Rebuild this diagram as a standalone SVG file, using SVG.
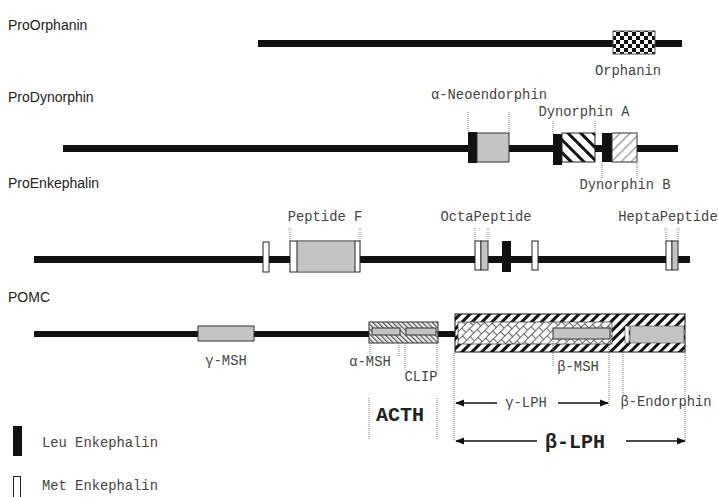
<svg xmlns="http://www.w3.org/2000/svg" width="718" height="497" viewBox="0 0 718 497">
<style>
.sans{font-family:"Liberation Sans",Arial,sans-serif;font-size:14px;fill:#222}
.mono{font-family:"Liberation Mono","Courier New",monospace;font-size:13.8px;fill:#444}
.bold{font-family:"Liberation Mono","Courier New",monospace;font-weight:bold;font-size:20px;fill:#222}
.bb{fill:#111}
.gray{fill:#c4c4c4;stroke:#333;stroke-width:1}
.wbox{fill:#fff;stroke:#222;stroke-width:1}
.dot{stroke:#777;stroke-width:1;stroke-dasharray:1 1;fill:none}
.arr{stroke:#111;stroke-width:1.6;fill:none}
</style>
<defs>
<pattern id="checker" width="8" height="8" patternUnits="userSpaceOnUse"><rect width="8" height="8" fill="#fff"/><rect width="4" height="4" fill="#111"/><rect x="4" y="4" width="4" height="4" fill="#111"/></pattern>
<pattern id="hatchA" width="9" height="9" patternUnits="userSpaceOnUse" patternTransform="rotate(-45)"><rect width="9" height="9" fill="#fff"/><rect width="3" height="9" fill="#111"/></pattern>
<pattern id="hatchB" width="7" height="7" patternUnits="userSpaceOnUse" patternTransform="rotate(45)"><rect width="7" height="7" fill="#fff"/><rect width="1.3" height="7" fill="#999"/></pattern>
<pattern id="hatchC" width="7" height="7" patternUnits="userSpaceOnUse" patternTransform="rotate(45)"><rect width="7" height="7" fill="#fff"/><rect width="3" height="7" fill="#111"/></pattern>
<pattern id="hatchD" width="3.5" height="3.5" patternUnits="userSpaceOnUse" patternTransform="rotate(-45)"><rect width="3.5" height="3.5" fill="#eee"/><rect width="1.2" height="3.5" fill="#555"/></pattern>
<pattern id="brick" width="12" height="10" patternUnits="userSpaceOnUse" patternTransform="rotate(45)"><rect width="12" height="10" fill="#fff"/><path d="M0.5 0V10M6.5 0V10M0 0.5H6.5M6.5 5.5H12" stroke="#555" stroke-width="0.9" fill="none"/></pattern>
<marker id="ah" viewBox="0 0 10 10" refX="9" refY="5" markerWidth="9" markerHeight="9" markerUnits="userSpaceOnUse" orient="auto-start-reverse"><path d="M0 1L10 5L0 9Z" fill="#111"/></marker>
</defs>

<g id="proorphanin">
<text class="sans" x="8" y="30">ProOrphanin</text>
<rect class="bb" x="258" y="40" width="424" height="7"/>
<rect x="613" y="31" width="42" height="23" fill="url(#checker)" stroke="#555" stroke-width="1"/>
<text class="mono" x="628" y="75" text-anchor="middle">Orphanin</text>
</g>

<g id="prodynorphin">
<text class="sans" x="8" y="102">ProDynorphin</text>
<rect class="bb" x="63" y="145" width="615" height="7"/>
<rect class="bb" x="468" y="132" width="9" height="31"/>
<rect class="gray" x="477" y="133" width="32" height="29"/>
<text class="mono" x="489" y="99" text-anchor="middle">α-Neoendorphin</text>
<rect class="bb" x="553" y="134" width="9" height="31"/>
<rect x="562" y="133" width="33" height="29" fill="url(#hatchA)" stroke="#222"/>
<text class="mono" x="584" y="116" text-anchor="middle">Dynorphin A</text>
<rect class="bb" x="602" y="133" width="10" height="29"/>
<rect x="612" y="133" width="25" height="29" fill="url(#hatchB)" stroke="#333"/>
<text class="mono" x="625" y="189" text-anchor="middle">Dynorphin B</text>
</g>

<g id="proenkephalin">
<text class="sans" x="8" y="188">ProEnkephalin</text>
<rect class="bb" x="34" y="256" width="656" height="7"/>
<rect class="wbox" x="263" y="242" width="6" height="30"/>
<rect class="wbox" x="290" y="241" width="70" height="31"/>
<rect x="297" y="242" width="58" height="29" fill="#c4c4c4"/>
<line x1="297" y1="241" x2="297" y2="272" stroke="#222"/>
<line x1="355" y1="241" x2="355" y2="272" stroke="#222"/>
<text class="mono" x="325" y="221" text-anchor="middle">Peptide F</text>
<rect class="wbox" x="475" y="241" width="6" height="29"/>
<rect class="gray" x="481" y="241" width="7" height="29"/>
<text class="mono" x="486" y="221" text-anchor="middle">OctaPeptide</text>
<rect class="bb" x="502" y="241" width="9" height="31"/>
<rect class="wbox" x="532" y="241" width="6" height="29"/>
<rect class="wbox" x="666" y="241" width="6" height="29"/>
<rect class="gray" x="672" y="241" width="6" height="29"/>
<text class="mono" x="668" y="221" text-anchor="middle">HeptaPeptide</text>
</g>

<g id="pomc">
<text class="sans" x="8" y="302">POMC</text>
<rect class="bb" x="34" y="331" width="421" height="6"/>
<rect class="gray" x="198" y="326" width="56" height="15"/>
<text class="mono" x="226" y="365" text-anchor="middle">γ-MSH</text>
<rect x="369" y="322" width="69" height="21" fill="url(#hatchD)" stroke="#333"/>
<rect class="gray" x="372" y="328" width="28" height="7"/>
<rect class="gray" x="406" y="328" width="30" height="7"/>
<text class="mono" x="370" y="366" text-anchor="middle">α-MSH</text>
<text class="mono" x="421" y="381" text-anchor="middle">CLIP</text>
<rect x="455" y="314" width="230" height="38" fill="url(#hatchC)" stroke="#111"/>
<rect x="458" y="322" width="154" height="22" fill="url(#brick)" stroke="#444" stroke-width="0.8"/>
<rect class="gray" x="553" y="328" width="57" height="11"/>
<text class="mono" x="578" y="371" text-anchor="middle">β-MSH</text>
<rect x="625" y="326" width="4" height="17" fill="#fff" stroke="#444" stroke-width="0.6"/>
<rect x="630" y="326" width="54" height="17" fill="#c4c4c4" stroke="#444" stroke-width="0.6"/>
<text class="mono" x="666" y="406" text-anchor="middle">β-Endorphin</text>
<text class="mono" x="526" y="407" text-anchor="middle">γ-LPH</text>
<text class="bold" x="400" y="421" text-anchor="middle">ACTH</text>
<text class="bold" x="575" y="448" text-anchor="middle">β-LPH</text>
</g>

<g id="legend">
<rect class="bb" x="13" y="426" width="9" height="30"/>
<text class="mono" x="42" y="447">Leu Enkephalin</text>
<rect class="wbox" x="13.5" y="476.5" width="7" height="22"/>
<text class="mono" x="42" y="490">Met Enkephalin</text>
</g>

<g id="connectors">
<path class="dot" d="M468 112V132M509 112V133M553 121V134M595 121V133M602 163V179M637 163V179"/>
<path class="dot" d="M290 228V241M360 228V241M475 228V241M488 228V241M666 228V241M678 228V241"/>
<path class="dot" d="M370 343V356M399 343V356M405 343V370M437 343V370M553 339V366M609 339V407M623 352V397M685 343V440M454 353V440M369 398V440M437 398V440"/>
<path class="arr" d="M497 403H456" marker-end="url(#ah)"/>
<path class="arr" d="M558 403H608" marker-end="url(#ah)"/>
<path class="arr" d="M537 441H456" marker-end="url(#ah)"/>
<path class="arr" d="M626 441H685" marker-end="url(#ah)"/>
</g>
</svg>
